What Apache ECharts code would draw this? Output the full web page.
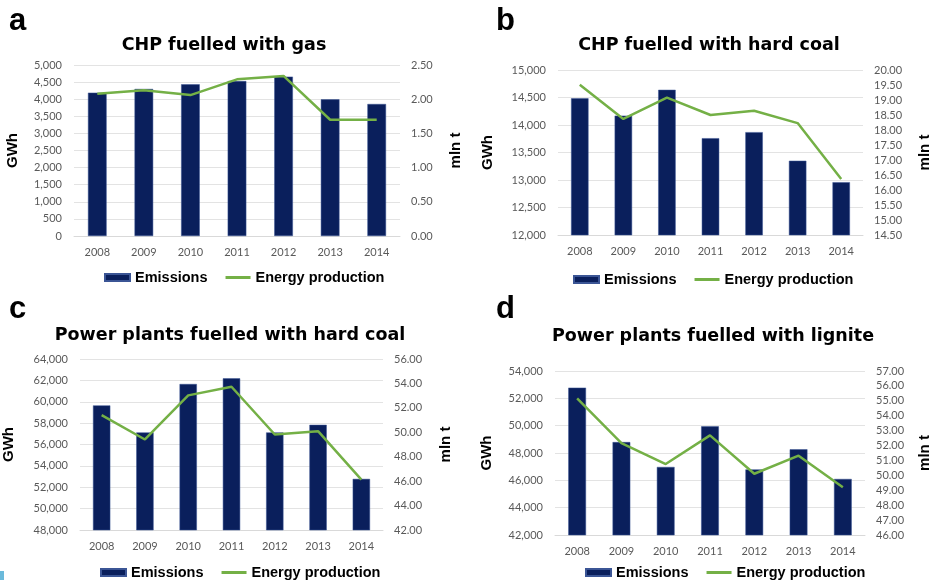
<!DOCTYPE html>
<html>
<head>
<meta charset="utf-8">
<script src="https://cdn.jsdelivr.net/npm/echarts@6/dist/echarts.min.js"></script>
<style>
  html, body { margin: 0; padding: 0; background: #fff; }
  #main { width: 933px; height: 580px; }
</style>
</head>
<body>
<div id="main"></div>
<script>
var years = ['2008', '2009', '2010', '2011', '2012', '2013', '2014'];

// emissions (GWh, left axis) and energy production (mln t, right axis)
var gasEmissions = [4190, 4300, 4435, 4530, 4660, 3995, 3860];
var gasEnergy = [2.08, 2.13, 2.06, 2.29, 2.34, 1.70, 1.70];

var chpCoalEmissions = [14485, 14170, 14640, 13760, 13870, 13350, 12960];
var chpCoalEnergy = [19.51, 18.37, 19.08, 18.50, 18.64, 18.23, 16.37];

var ppCoalEmissions = [59660, 57130, 61660, 62190, 57130, 57840, 52780];
var ppCoalEnergy = [51.41, 49.41, 53.02, 53.73, 49.82, 50.09, 46.13];

var ligniteEmissions = [52780, 48800, 46980, 49950, 46800, 48270, 46100];
var ligniteEnergy = [55.17, 52.17, 50.76, 52.68, 50.11, 51.32, 49.20];

var panelTitles = ['CHP fuelled with gas', 'CHP fuelled with hard coal',
  'Power plants fuelled with hard coal', 'Power plants fuelled with lignite'];
var panelLetters = ['a', 'b', 'c', 'd'];

var chart = echarts.init(document.getElementById('main'));

var barColor = '#0a1f5c';
var lineColor = '#74b046';
var tickFont = { color: '#595959', fontSize: 11, fontFamily: 'Lato' };
var nameFont = { color: '#000', fontSize: 15, fontWeight: 'bold', fontFamily: 'Liberation Sans' };

// panel layout (pixels)
var grids = [
  { left: 74, right: 533, top: 65, bottom: 344 },
  { left: 558, right: 64, top: 70, bottom: 345 },
  { left: 74, right: 550, top: 359, bottom: 50 },
  { left: 555, right: 62, top: 371, bottom: 45 }
];
var leftAxes = [
  { min: 0, max: 5000, interval: 500, gap: 54 },
  { min: 12000, max: 15000, interval: 500, gap: 63 },
  { min: 48000, max: 64000, interval: 2000, gap: 64 },
  { min: 42000, max: 54000, interval: 2000, gap: 61 }
];
var rightAxes = [
  { min: 0, max: 2.5, interval: 0.5, gap: 48 },
  { min: 14.5, max: 20, interval: 0.5, gap: 54 },
  { min: 42, max: 56, interval: 2, gap: 55 },
  { min: 46, max: 57, interval: 1, gap: 52 }
];
var titlePos = [[219, 31], [704, 31], [225, 321], [708, 322]];
var letterPos = [[4, 1], [491, 1], [4, 289], [491, 289]];
var legendPos = [[99, 265], [568, 267], [95, 560], [580, 560]];
var barData = [gasEmissions, chpCoalEmissions, ppCoalEmissions, ligniteEmissions];
var lineData = [gasEnergy, chpCoalEnergy, ppCoalEnergy, ligniteEnergy];

var option = {
  backgroundColor: '#fff',
  animation: false,
  title: [],
  legend: [],
  grid: grids,
  xAxis: [],
  yAxis: [],
  series: [],
  graphic: [{
    type: 'rect', left: 0, top: 571,
    shape: { width: 4, height: 9 },
    style: { fill: '#6bbadb' }
  }]
};

for (var i = 0; i < 4; i++) {
  option.title.push({
    text: panelTitles[i],
    left: titlePos[i][0], top: titlePos[i][1],
    textAlign: 'center',
    textStyle: { fontSize: 17.5, fontWeight: 'bold', fontFamily: 'DejaVu Sans', color: '#000' }
  });
  option.title.push({
    text: panelLetters[i],
    left: letterPos[i][0], top: letterPos[i][1],
    textStyle: { fontSize: 31, fontWeight: 'bold', fontFamily: 'Liberation Sans', color: '#000' }
  });
  option.legend.push({
    left: legendPos[i][0], top: legendPos[i][1],
    itemWidth: 25, itemHeight: 7, itemGap: 18,
    textStyle: { fontSize: 14.5, fontWeight: 'bold', fontFamily: 'Liberation Sans', color: '#000' },
    data: [
      { name: 'Emissions', icon: 'rect' },
      { name: 'Energy production', icon: 'path://M0,0 H25 V3 H0 Z' }
    ]
  });
  option.xAxis.push({
    type: 'category', gridIndex: i, data: years,
    axisTick: { show: false },
    axisLine: { lineStyle: { color: '#d9d9d9' } },
    axisLabel: Object.assign({ margin: 11 }, tickFont)
  });
  option.yAxis.push({
    type: 'value', gridIndex: i,
    min: leftAxes[i].min, max: leftAxes[i].max, interval: leftAxes[i].interval,
    name: 'GWh', nameLocation: 'middle', nameGap: leftAxes[i].gap, nameRotate: 90,
    nameTextStyle: nameFont,
    axisLabel: Object.assign({ margin: 12, formatter: function (v) { return v.toLocaleString('en-US'); } }, tickFont),
    splitLine: { lineStyle: { color: '#e3e3e3' } }
  });
  option.yAxis.push({
    type: 'value', gridIndex: i, position: 'right',
    min: rightAxes[i].min, max: rightAxes[i].max, interval: rightAxes[i].interval,
    name: 'mln t', nameLocation: 'middle', nameGap: rightAxes[i].gap, nameRotate: 90,
    nameTextStyle: nameFont,
    axisLabel: Object.assign({ margin: 11, formatter: function (v) { return v.toFixed(2); } }, tickFont),
    splitLine: { show: false }
  });
  option.series.push({
    name: 'Emissions', type: 'bar',
    xAxisIndex: i, yAxisIndex: i * 2,
    barWidth: '40%',
    itemStyle: { color: barColor, borderColor: '#3b5595', borderWidth: 0.5 },
    data: barData[i]
  });
  option.series.push({
    name: 'Energy production', type: 'line',
    xAxisIndex: i, yAxisIndex: i * 2 + 1,
    symbol: 'none',
    lineStyle: { color: lineColor, width: 2.5 },
    itemStyle: { color: lineColor },
    data: lineData[i]
  });
}

chart.setOption(option);
</script>
</body>
</html>
